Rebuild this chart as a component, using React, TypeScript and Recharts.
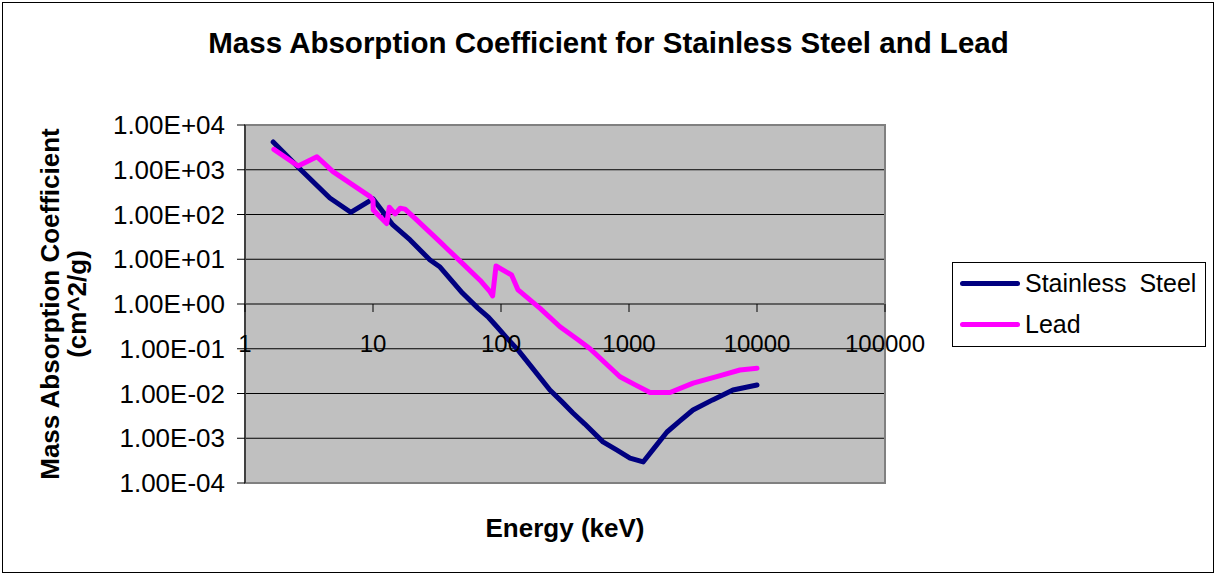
import {
  CartesianGrid,
  Label,
  Legend,
  Line,
  LineChart,
  ReferenceArea,
  XAxis,
  YAxis,
} from "recharts";

const xTicks = [1, 10, 100, 1000, 10000, 100000];
const yTicks = [1e-4, 1e-3, 1e-2, 1e-1, 1, 10, 100, 1000, 10000];

// Stainless steel, energy in keV and mass absorption coefficient in cm^2/g
const steelEnergy = [
  1.66, 2.69, 4.6, 6.7, 10, 14.3, 19.5, 27.9, 33.4, 50, 66, 80, 93, 110, 136,
  170, 241, 300, 365, 450, 626, 800, 1018, 1290, 1600, 1980, 2500, 3160, 4500,
  6490, 10000,
];
const steelMu = [
  4170, 1040, 234, 112, 224, 58.5, 27, 9.6, 6.7, 1.76, 0.81, 0.5, 0.31, 0.18,
  0.093, 0.042, 0.012, 0.0065, 0.00367, 0.0021, 0.00083, 0.00055, 0.00036,
  0.000295, 0.00064, 0.00138, 0.00245, 0.00427, 0.0072, 0.012, 0.0155,
];

// Lead
const leadEnergy = [
  1.68, 2.6, 3.65, 4.87, 9.5, 10, 10.05, 12.8, 13.4, 14.9, 16.3, 17.8, 21.3,
  33.4, 37.6, 50, 68.5, 82, 86, 91.4, 121, 136, 202, 289, 400, 496, 850, 1100,
  1460, 2090, 3170, 5000, 7360, 10000,
];
const leadMu = [
  2860, 1210, 1950, 906, 251, 211, 126, 63, 145, 103, 138, 132, 82, 24.4, 17.6,
  8.1, 3.4, 1.88, 1.51, 7.06, 4.45, 2.06, 0.8, 0.31, 0.159, 0.1, 0.0237, 0.016,
  0.0105, 0.0105, 0.017, 0.0245, 0.0335, 0.0366,
];

const steelData = steelEnergy.map((energy, i) => ({ energy, mu: steelMu[i] }));
const leadData = leadEnergy.map((energy, i) => ({ energy, mu: leadMu[i] }));

const series = [
  { name: "Stainless Steel", color: "#000080", data: steelData },
  { name: "Lead", color: "#FF00FF", data: leadData },
];

const FONT = '"Liberation Sans", Arial, sans-serif';
const W = 1217;
const H = 575;
const MARGIN = { top: 125, right: 332, bottom: 0, left: 0 };
const X_AXIS_H = 92;
const PLOT_H = H - MARGIN.top - X_AXIS_H;

// the energy axis crosses the log y range at 1, four decades up from the bottom
const AXIS_LIFT = (PLOT_H * Math.log10(1 / 1e-4)) / Math.log10(1e4 / 1e-4);

const sci = (v: number) => {
  const [m, e] = v.toExponential(2).split("e");
  const n = Number(e);
  return `${m}E${n < 0 ? "-" : "+"}${String(Math.abs(n)).padStart(2, "0")}`;
};

const EnergyTick = ({ x, y, payload }: any) => {
  const y0 = y - AXIS_LIFT;
  return (
    <g>
      <line x1={x} x2={x} y1={y0} y2={y0 + 8} stroke="#000" />
      <text
        x={x}
        y={y0 + 39}
        textAnchor="middle"
        dominantBaseline="central"
        fontSize={24}
        fontFamily={FONT}
        fill="#000"
      >
        {payload.value}
      </text>
    </g>
  );
};

const LegendBox = () => (
  <div
    style={{
      width: 254,
      height: 85,
      border: "1px solid #000",
      boxSizing: "border-box",
      background: "#fff",
      fontFamily: FONT,
      fontSize: 25,
      wordSpacing: 6,
      color: "#000",
      whiteSpace: "nowrap",
    }}
  >
    {series.map((s) => (
      <div
        key={s.name}
        style={{ display: "flex", alignItems: "center", height: 41 }}
      >
        <span
          style={{
            display: "inline-block",
            width: 60,
            height: 5,
            borderRadius: 3,
            background: s.color,
            marginLeft: 7,
            marginRight: 5,
          }}
        />
        {s.name}
      </div>
    ))}
  </div>
);

export default function App() {
  return (
    <div style={{ position: "relative", width: W, height: H, background: "#fff" }}>
      <style>{`body{margin:0}`}</style>
      <div
        style={{
          position: "absolute",
          left: 2,
          top: 2,
          width: W - 5,
          height: H - 4,
          border: "1px solid #000",
          boxSizing: "border-box",
        }}
      />
      <div
        style={{
          position: "absolute",
          left: 0,
          top: 25,
          width: W,
          textAlign: "center",
          fontFamily: FONT,
          fontWeight: "bold",
          fontSize: 29.5,
          lineHeight: "36px",
          color: "#000",
        }}
      >
        Mass Absorption Coefficient for Stainless Steel and Lead
      </div>
      <LineChart width={W} height={H} margin={MARGIN}>
        <CartesianGrid
          vertical={false}
          stroke="#000"
          fill="#C0C0C0"
          fillOpacity={1}
        />
        <ReferenceArea
          x1={1}
          x2={100000}
          y1={1e-4}
          y2={1e4}
          fill="none"
          stroke="#808080"
          strokeWidth={2}
          ifOverflow="visible"
        />
        <XAxis
          dataKey="energy"
          type="number"
          scale="log"
          domain={[1, 100000]}
          ticks={xTicks}
          interval={0}
          allowDataOverflow
          height={X_AXIS_H}
          axisLine={false}
          tickLine={false}
          tickSize={0}
          tickMargin={0}
          tick={<EnergyTick />}
        >
          <Label
            value="Energy (keV)"
            position="center"
            dy={-1}
            style={{ fontFamily: FONT, fontWeight: "bold", fontSize: 26, fill: "#000" }}
          />
        </XAxis>
        <YAxis
          dataKey="mu"
          type="number"
          scale="log"
          domain={[1e-4, 1e4]}
          ticks={yTicks}
          interval={0}
          allowDataOverflow
          width={245}
          tickSize={8}
          tickMargin={12}
          tickFormatter={sci}
          tick={{ fill: "#000", fontSize: 26, fontFamily: FONT }}
          axisLine={{ stroke: "#000" }}
          tickLine={{ stroke: "#000" }}
        >
          <Label
            content={({ viewBox }: any) => {
              const cy = viewBox.y + viewBox.height / 2;
              const style = { fontFamily: FONT, fontWeight: "bold", fontSize: 26 };
              return (
                <g>
                  <text
                    x={50}
                    y={cy}
                    transform={`rotate(-90, 50, ${cy})`}
                    textAnchor="middle"
                    dominantBaseline="central"
                    fill="#000"
                    style={style}
                  >
                    Mass Absorption Coefficient
                  </text>
                  <text
                    x={77}
                    y={cy}
                    transform={`rotate(-90, 77, ${cy})`}
                    textAnchor="middle"
                    dominantBaseline="central"
                    fill="#000"
                    style={style}
                  >
                    (cm^2/g)
                  </text>
                </g>
              );
            }}
          />
        </YAxis>
        <Legend
          layout="vertical"
          align="center"
          verticalAlign="middle"
          content={<LegendBox />}
          wrapperStyle={{ left: 952, top: 262, width: 254 }}
        />
        {series.map((s) => (
          <Line
            key={s.name}
            data={s.data}
            dataKey="mu"
            name={s.name}
            type="linear"
            stroke={s.color}
            strokeWidth={5}
            strokeLinejoin="round"
            strokeLinecap="round"
            dot={false}
            activeDot={false}
            isAnimationActive={false}
          />
        ))}
      </LineChart>
    </div>
  );
}
